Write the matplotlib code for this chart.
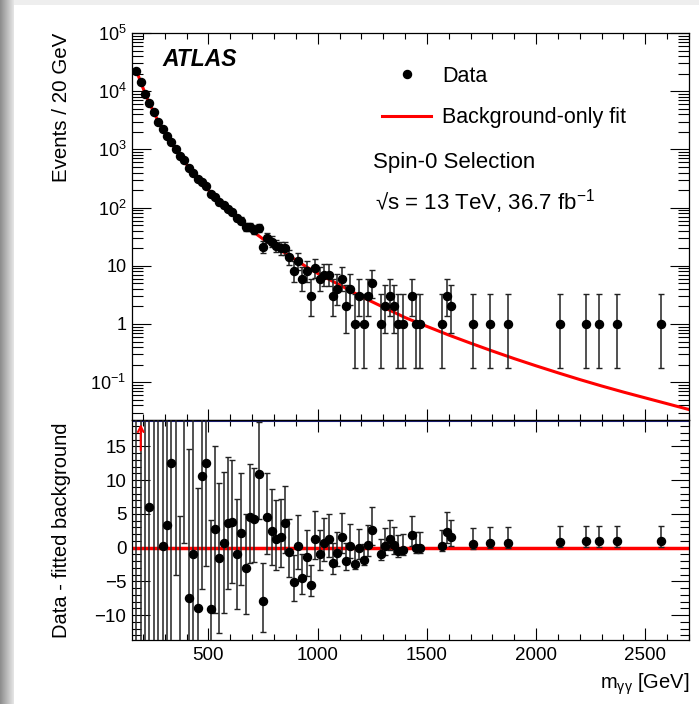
import math
import numpy as np
import matplotlib
matplotlib.use("Agg")
from matplotlib import pyplot as plt
from matplotlib.ticker import (FixedLocator, FixedFormatter, LogLocator,
                               NullFormatter, MultipleLocator)
from matplotlib.lines import Line2D
from matplotlib.patches import Rectangle

plt.rcParams['font.family'] = ['Liberation Sans', 'DejaVu Sans']
plt.rcParams['mathtext.fontset'] = 'custom'
plt.rcParams['mathtext.rm'] = 'Liberation Sans'
plt.rcParams['mathtext.it'] = 'Liberation Sans:italic'
plt.rcParams['mathtext.bf'] = 'Liberation Sans:bold'

# diphoton mass bin centres [GeV] (only bins with events)
mass = [170, 190, 210, 230, 250, 270, 290, 310, 330, 350, 370, 390, 410, 430,
        450, 470, 490, 510, 530, 550, 570, 590, 610, 630, 650, 670, 690, 710,
        730, 750, 770, 790, 810, 830, 850, 870, 890, 910, 930, 950, 970, 990,
        1010, 1030, 1050, 1070, 1090, 1110, 1130, 1150, 1170, 1190, 1210, 1230,
        1250, 1290, 1310, 1330, 1350, 1370, 1390, 1430, 1450, 1470, 1570, 1590,
        1610, 1710, 1790, 1870, 2110, 2230, 2290, 2370, 2570]

# events per 20 GeV bin
events = [22390, 14420, 9100, 6172, 4390, 2995, 2254, 1709, 1319, 1028, 764,
          645, 487, 399, 315, 278, 233, 173, 154, 124, 109, 96, 83, 66, 60, 47,
          47, 42, 44, 21, 30, 26, 22, 20, 20, 14, 8, 12, 6, 8, 3, 9,
          6, 7, 7, 3, 4, 6, 2, 4, 1, 3, 1, 3,
          5, 1, 2, 3, 2, 1, 1, 3, 1, 1, 1, 3,
          2, 1, 1, 1, 1, 1, 1, 1, 1]

# data - fitted background
resid = [-40, 30, -30, 6.0, 25, -25, 0.3, 3.4, 12.5, 28, -23, 26, -7.5, -1.0,
         -8.9, 10.6, 12.6, -9.1, 2.7, -1.5, 0.7, 3.6, 3.8, -1.0, 2.2, -3.0, 4.5, 4.3,
         10.9, -7.9, 4.5, 2.5, 1.3, 1.6, 3.6, -0.6, -5.1, 0.2, -4.5, -1.4, -5.5, 1.3,
         -1.0, 0.6, 1.2, -2.3, -0.8, 1.6, -2.0, 0.3, -2.4, -0.1, -1.8, 0.4,
         2.6, -1.0, 0.2, 1.2, 0.4, -0.5, -0.3, 1.8, 0.0, 0.0, 0.3, 2.3,
         1.5, 0.55, 0.7, 0.7, 0.85, 0.9, 0.9, 0.9, 0.95]

# background-only fit
fit_mass = [170, 190, 210, 230, 250, 270, 300, 350, 400, 450, 500, 550, 600,
            650, 700, 750, 800, 850, 900, 950, 1000, 1100, 1200, 1300, 1400,
            1500, 1600, 1700, 1800, 1900, 2000, 2100, 2200, 2300, 2400, 2500,
            2600, 2700]
fit_events = [22400, 14450, 9120, 6170, 4370, 3020, 1950, 1000, 550, 324, 200,
              126, 85, 57.5, 39.8, 28.8, 21.9, 16.6, 12.6, 9.5, 7.4, 4.7, 2.95,
              1.95, 1.29, 0.91, 0.646, 0.468, 0.343, 0.254, 0.191, 0.145, 0.111,
              0.0861, 0.0676, 0.0537, 0.0427, 0.0339]

overflow_mass = [190]

y_ticks = [0.1, 1, 10, 100, 1e3, 1e4, 1e5]
y_labels = [r'$\mathregular{10^{-1}}$', '1', '10', r'$\mathregular{10^{2}}$',
            r'$\mathregular{10^{3}}$', r'$\mathregular{10^{4}}$',
            r'$\mathregular{10^{5}}$']


def poisson_cdf(k, mu):
    return sum(math.exp(-mu + i * math.log(mu) - math.lgamma(i + 1))
               for i in range(k + 1))


def bisect(f, a, b):
    for _ in range(80):
        c = 0.5 * (a + b)
        if f(a) * f(c) <= 0:
            b = c
        else:
            a = c
    return 0.5 * (a + b)


# Garwood 68% intervals, plain sqrt(n) for large counts
def poisson_err(n):
    if n > 60:
        return math.sqrt(n), math.sqrt(n)
    alpha = 0.158655
    up = bisect(lambda mu: poisson_cdf(n, mu) - alpha, n + 1e-9, n + 10 * math.sqrt(n + 1) + 10)
    if n == 0:
        low = 0.0
    else:
        low = bisect(lambda mu: poisson_cdf(n - 1, mu) - (1 - alpha), 1e-9, n)
    return n - low, up - n


errs = np.array([poisson_err(n) for n in events]).T

fig = plt.figure(figsize=(6.99, 7.04), dpi=100)
fig.patch.set_facecolor('#eeeeee')
fig.patches.append(Rectangle((14 / 699, 0), 1, 1 - 5 / 704, transform=fig.transFigure,
                             facecolor='white', edgecolor='none', zorder=-10))
shade = fig.add_axes([0, 0, 14 / 699, 1])
shade.imshow(np.linspace(0.55, 0.9, 40)[None, :], cmap='gray', vmin=0, vmax=1,
             aspect='auto')
shade.axis('off')

ax1 = fig.add_axes([132 / 699, 1 - 420 / 704, 557 / 699, 387 / 704])
ax2 = fig.add_axes([132 / 699, 1 - 640 / 704, 557 / 699, 220 / 704], sharex=ax1)

ebar = dict(fmt='o', color='black', ms=5.8, ecolor='#222222', elinewidth=1.1,
            capsize=2.4, capthick=1.0, zorder=3)

# upper panel
ax1.plot(fit_mass, fit_events, color='red', lw=2.2, zorder=2)
ax1.errorbar(mass, events, yerr=errs, **ebar)
ax1.set_yscale('log')
ax1.set_xlim(150, 2700)
ax1.set_ylim(0.0224, 1e5)
ax1.yaxis.set_major_locator(FixedLocator(y_ticks))
ax1.yaxis.set_major_formatter(FixedFormatter(y_labels))
ax1.yaxis.set_minor_locator(LogLocator(base=10, subs=np.arange(2, 10), numticks=20))
ax1.yaxis.set_minor_formatter(NullFormatter())
ax1.tick_params(which='both', direction='in', top=True, right=True,
                labelbottom=False, width=0.8, labelsize=13)
ax1.tick_params(axis='y', which='major', length=14, pad=4)
ax1.tick_params(axis='y', which='minor', length=8)
ax1.tick_params(axis='x', which='major', length=8)
ax1.tick_params(axis='x', which='minor', length=4.5)
ax1.set_ylabel('Events / 20 GeV', fontsize=14.8, loc='top')
ax1.yaxis.set_label_coords(-0.11, 1.0)

ax1.text(0.0544, 0.9155, 'ATLAS', transform=ax1.transAxes, fontsize=16.5,
         fontweight='bold', fontstyle='italic')
handles = [Line2D([], [], ls='none', marker='o', color='black', ms=5.8),
           Line2D([], [], color='red', lw=2.2)]
ax1.legend(handles, ['Data', 'Background-only fit'], loc='upper left',
           bbox_to_anchor=(0.4484, 0.915), frameon=False, fontsize=15.5,
           handlelength=2.3, handletextpad=0.5, labelspacing=0.95,
           borderpad=0, borderaxespad=0)
ax1.text(0.432, 0.652, 'Spin-0 Selection', transform=ax1.transAxes, fontsize=16)
ax1.text(0.436, 0.545, '√s = 13 TeV, 36.7 fb$^{\\mathregular{-1}}$',
         transform=ax1.transAxes, fontsize=16)

# lower panel
ax2.axhline(0, color='red', lw=2.5, zorder=2)
ax2.axhline(18.75, color='#1b1f7a', lw=1.5, zorder=2)
ax2.errorbar(mass, resid, yerr=errs, **ebar)
for m in overflow_mass:
    ax2.annotate('', xy=(m, 18.7), xytext=(m, 14.0),
                 arrowprops=dict(arrowstyle='->', color='red', lw=1.5))
ax2.set_ylim(-13.7, 18.9)
ax2.xaxis.set_major_locator(MultipleLocator(500))
ax2.xaxis.set_minor_locator(MultipleLocator(100))
ax2.yaxis.set_major_locator(MultipleLocator(5))
ax2.yaxis.set_minor_locator(MultipleLocator(1))
ax2.tick_params(which='both', direction='in', top=True, right=True, width=0.8,
                labelsize=13.5)
ax2.tick_params(axis='y', which='major', length=13, pad=4)
ax2.tick_params(axis='y', which='minor', length=6.5)
ax2.tick_params(axis='x', which='major', length=8.5, pad=5)
ax2.tick_params(axis='x', which='minor', length=4.5)
ax2.set_ylabel('Data - fitted background', fontsize=14.5)
ax2.yaxis.set_label_coords(-0.11, 0.5)
ax2.set_xlabel(r'$\mathregular{m_{γγ}}$ [GeV]', fontsize=14.5, loc='right')
ax2.xaxis.set_label_coords(1.0, -0.145)

for ax in (ax1, ax2):
    for sp in ax.spines.values():
        sp.set_linewidth(0.9)

fig.savefig('out.png', dpi=100, facecolor=fig.get_facecolor())
